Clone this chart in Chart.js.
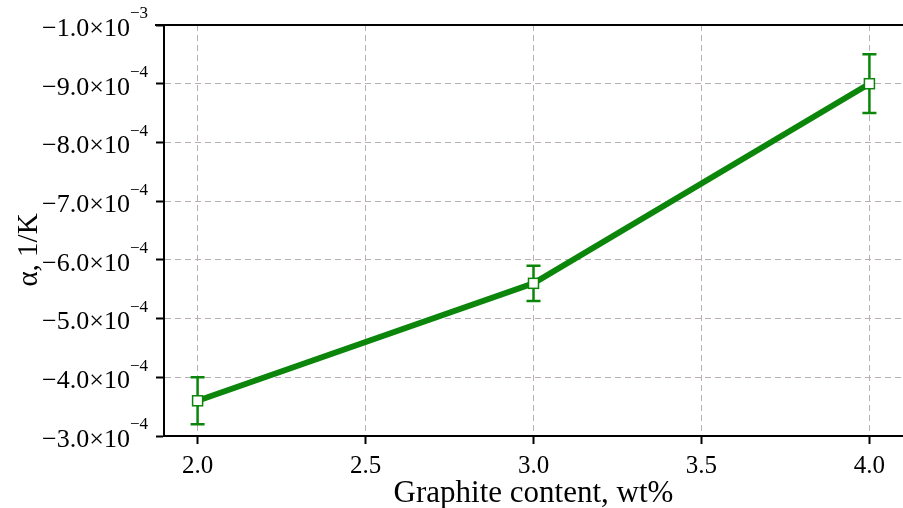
<!DOCTYPE html>
<html>
<head>
<meta charset="utf-8">
<script src="https://cdn.jsdelivr.net/npm/chart.js@4.4.1/dist/chart.umd.min.js"></script>
<style>
  html, body { margin: 0; padding: 0; background: #ffffff; }
  #wrap { width: 903px; height: 508px; position: relative; }
</style>
</head>
<body>
<div id="wrap"><canvas id="alphaChart"></canvas></div>
<script>
// graphite content (wt%) and thermal coefficient alpha (1/K)
const graphite = [2.0, 3.0, 4.0];
const alpha = [-3.6e-4, -5.6e-4, -9.0e-4];
const alphaErr = [0.4e-4, 0.3e-4, 0.5e-4];

const xTicks = [2.0, 2.5, 3.0, 3.5, 4.0];
const xTickLabels = ['2.0', '2.5', '3.0', '3.5', '4.0'];
const yTicks = [-1.0e-3, -9.0e-4, -8.0e-4, -7.0e-4, -6.0e-4, -5.0e-4, -4.0e-4, -3.0e-4];
const yTickMantissa = ['\u22121.0', '\u22129.0', '\u22128.0', '\u22127.0', '\u22126.0', '\u22125.0', '\u22124.0', '\u22123.0'];
const yTickExp = ['\u22123', '\u22124', '\u22124', '\u22124', '\u22124', '\u22124', '\u22124', '\u22124'];

const green = '#0b860b';
const serif = '"Liberation Serif", "Times New Roman", serif';

const pickLabel = (value, ticks, labels) => {
    const i = ticks.findIndex(t => Math.abs(t - value) < 1e-9);
    return i >= 0 ? labels[i] : '';
};

// y tick labels with real superscripts, y title, top frame line, error bars
const extras = {
    id: 'extras',
    afterDraw(chart) {
        const { ctx, chartArea } = chart;
        const xs = chart.scales.x, ys = chart.scales.y;
        ctx.save();

        // y tick labels
        ctx.fillStyle = '#000';
        ctx.textBaseline = 'middle';
        yTicks.forEach((v, i) => {
            const py = ys.getPixelForValue(v);
            const right = chartArea.left - 16;
            ctx.font = '17px ' + serif;
            const ew = ctx.measureText(yTickExp[i]).width;
            ctx.textAlign = 'left';
            ctx.fillText(yTickExp[i], right - ew, py - 11);
            ctx.font = '26px ' + serif;
            ctx.textAlign = 'right';
            ctx.fillText(yTickMantissa[i] + '\u00d710', right - ew, py + 4);
        });

        // y title
        ctx.save();
        ctx.translate(29, 250);
        ctx.rotate(-Math.PI / 2);
        ctx.textAlign = 'center';
        ctx.font = '29px ' + serif;
        ctx.fillText('\u03b1, 1/K', 0, 0);
        ctx.restore();

        // top frame
        ctx.strokeStyle = '#000';
        ctx.lineWidth = 2;
        ctx.beginPath();
        ctx.moveTo(chartArea.left - 9, chartArea.top);
        ctx.lineTo(chartArea.right, chartArea.top);
        ctx.stroke();

        // error bars and open square markers
        ctx.strokeStyle = green;
        graphite.forEach((g, i) => {
            const px = xs.getPixelForValue(g);
            const lo = ys.getPixelForValue(alpha[i] - alphaErr[i]);
            const hi = ys.getPixelForValue(alpha[i] + alphaErr[i]);
            ctx.lineWidth = 2.5;
            ctx.beginPath();
            ctx.moveTo(px, lo); ctx.lineTo(px, hi);
            ctx.moveTo(px - 7, lo); ctx.lineTo(px + 7, lo);
            ctx.moveTo(px - 7, hi); ctx.lineTo(px + 7, hi);
            ctx.stroke();
            const py = ys.getPixelForValue(alpha[i]);
            ctx.fillStyle = '#fff';
            ctx.fillRect(px - 5, py - 5, 10, 10);
            ctx.lineWidth = 1.5;
            ctx.strokeRect(px - 5, py - 5, 10, 10);
        });
        ctx.restore();
    }
};

new Chart(document.getElementById('alphaChart'), {
    type: 'line',
    data: {
        datasets: [{
            data: graphite.map((g, i) => ({ x: g, y: alpha[i] })),
            borderColor: green,
            borderWidth: 6,
            pointRadius: 0,
            fill: false,
            tension: 0
        }]
    },
    options: {
        responsive: true,
        maintainAspectRatio: false,
        animation: false,
        layout: { padding: { top: 25, right: 0, left: 0, bottom: 0 } },
        plugins: { legend: { display: false }, tooltip: { enabled: false } },
        scales: {
            x: {
                type: 'linear',
                min: 1.9,
                max: 4.1,
                afterBuildTicks: (scale) => { scale.ticks = xTicks.map(v => ({ value: v })); },
                afterFit: (scale) => { scale.height = 72; },
                ticks: {
                    callback: (v) => pickLabel(v, xTicks, xTickLabels),
                    color: '#000',
                    font: { family: serif, size: 25 },
                    padding: 7,
                    maxRotation: 0
                },
                grid: { color: '#b8aeb8', tickColor: '#000', tickLength: 8, tickWidth: 2 },
                border: { display: true, color: '#000', width: 2, dash: [6, 4] },
                title: {
                    display: true,
                    text: 'Graphite content, wt%',
                    color: '#000',
                    font: { family: serif, size: 31 },
                    padding: { top: 0, bottom: -4 }
                }
            },
            y: {
                type: 'linear',
                reverse: true,
                min: -1.0e-3,
                max: -3.0e-4,
                afterBuildTicks: (scale) => { scale.ticks = yTicks.map(v => ({ value: v })); },
                afterFit: (scale) => { scale.width = 164; },
                ticks: { display: false },
                grid: { color: '#b8aeb8', tickColor: '#000', tickLength: 8, tickWidth: 2 },
                border: { display: true, color: '#000', width: 2, dash: [6, 4] },
                title: { display: false }
            }
        }
    },
    plugins: [extras]
});
</script>
</body>
</html>
